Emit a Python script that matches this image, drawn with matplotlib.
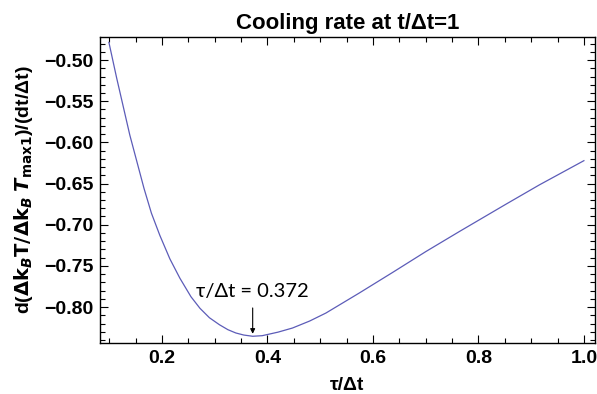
import matplotlib
matplotlib.use("Agg")
import matplotlib.pyplot as plt
from matplotlib.ticker import MultipleLocator, FuncFormatter

tau = [0.0994, 0.1140, 0.1390, 0.1660, 0.1800, 0.1960, 0.2150, 0.2340, 0.2550,
       0.2720, 0.2900, 0.3090, 0.3250, 0.3400, 0.3550, 0.3720, 0.3900, 0.4200,
       0.4474, 0.4800, 0.5108, 0.5740, 0.6372, 0.7006, 0.7638, 0.8524, 0.9156, 1.0000]
rate = [-0.4785, -0.5215, -0.5910, -0.6560, -0.6860, -0.7130, -0.7415, -0.7650,
        -0.7875, -0.8015, -0.8130, -0.8215, -0.8275, -0.8315, -0.8340, -0.8355,
        -0.8348, -0.8305, -0.8255, -0.8170, -0.8073, -0.7830, -0.7580, -0.7325,
        -0.7083, -0.6750, -0.6516, -0.6222]

tau_min = 0.372
rate_min = -0.8355
annot_text = "τ/Δt = 0.372"

fig = plt.figure(figsize=(5.97, 3.94), dpi=100)
ax = fig.add_axes([0.1675, 0.1294, 0.8291, 0.7766])

ax.plot(tau, rate, color="#5c5cb8", lw=0.9, solid_joinstyle="round")

ax.set_xlim(0.0825, 1.021)
ax.set_ylim(-0.8437, -0.472)

ax.xaxis.set_major_locator(MultipleLocator(0.2))
ax.xaxis.set_minor_locator(MultipleLocator(0.05))
ax.yaxis.set_major_locator(MultipleLocator(0.05))
ax.yaxis.set_minor_locator(MultipleLocator(0.01))
ax.xaxis.set_major_formatter(FuncFormatter(lambda v, p: f"{v:.1f}".replace("-", "\u2212")))
ax.yaxis.set_major_formatter(FuncFormatter(lambda v, p: f"{v:.2f}".replace("-", "\u2212")))

ax.tick_params(which="both", direction="in", top=True, right=True, width=0.8, color="black")
ax.tick_params(which="major", length=6)
ax.tick_params(which="minor", length=3.5)
ax.tick_params(axis="both", which="major", labelsize=14, pad=5)
for lab in ax.get_xticklabels() + ax.get_yticklabels():
    lab.set_fontweight("bold")
    lab.set_family("Liberation Sans")
for s in ax.spines.values():
    s.set_linewidth(1.0)

ax.set_title("Cooling rate at t/Δt=1", fontsize=16, fontweight="bold",
             family="Liberation Sans", pad=6)
ax.set_xlabel("τ/Δt", fontsize=14, fontweight="bold", family="Liberation Sans", labelpad=7)
ax.set_ylabel(r"d($\mathbf{\Delta k}_{\mathbfit{B}}$$\mathbf{T/\Delta k}_{\mathbfit{B}}$ $\mathbfit{T}_{\mathbf{max1}}$)/(dt/Δt)",
              fontsize=14, fontweight="bold", family="Liberation Sans", labelpad=6)

ax.annotate(annot_text, xy=(tau_min, rate_min + 0.003), xytext=(tau_min, -0.791),
            ha="center", va="bottom", fontsize=14.5, family="Lato",
            arrowprops=dict(arrowstyle="-|>", color="black", lw=0.8,
                            mutation_scale=7, shrinkA=4, shrinkB=0))

fig.savefig("out.png", dpi=100)
